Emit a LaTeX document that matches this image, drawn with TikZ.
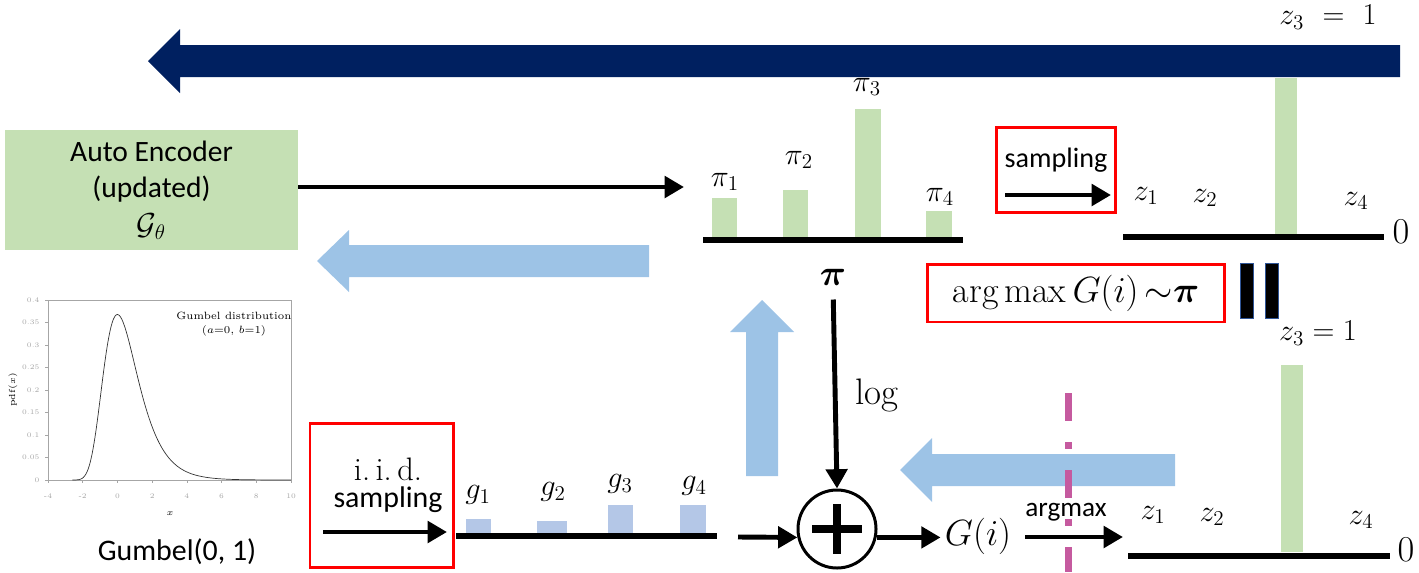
\documentclass[tikz,border=0pt]{standalone}
\usepackage{amsmath,amssymb}
\usepackage{fontspec}
\setsansfont{Carlito}
\usepackage{xcolor}
\definecolor{cNavy}{HTML}{002060}
\definecolor{cGreen}{HTML}{C5E0B4}
\definecolor{cBlue}{HTML}{9DC3E6}
\definecolor{cBar}{HTML}{B4C7E7}
\definecolor{cRed}{HTML}{FF0000}
\definecolor{cPink}{HTML}{C55A9F}
\definecolor{cEdge}{HTML}{2F5597}
\usetikzlibrary{positioning,arrows.meta,calc}
\tikzset{
  box-ae/.style={fill=cGreen,minimum width=166.7pt,minimum height=68.3pt,
    align=center,inner sep=0pt,font=\sffamily\fontsize{16.8}{21}\selectfont},
  box-red/.style={draw=cRed,line width=1.7pt,inner sep=0pt},
  node-sum/.style={draw,circle,line width=1.7pt,minimum size=44.4pt,inner sep=0pt},
  % black arrows and the axis lines of the bar charts
  arrow/.style={-{Triangle[length=11pt,width=12pt]},line width=2.8pt},
  axis-base/.style={line width=3.4pt},
  bar-green/.style={fill=cGreen},
  bar-blue/.style={fill=cBar},
  block-navy/.style={fill=cNavy},
  block-blue/.style={fill=cBlue},
  lbl/.style={inner sep=0pt,font=\fontsize{18.5}{20}\selectfont},
  lbl-sf/.style={inner sep=0pt,font=\sffamily\fontsize{16}{20}\selectfont},
  tick-lbl/.style={inner sep=0pt,font=\fontsize{4}{5}\selectfont},
}

\begin{document}
\begin{tikzpicture}[x=0.02cm,y=-0.02cm]
  \useasboundingbox (0,0) rectangle (1419,572);

  % big feedback arrows
  \fill[block-navy] (148,61) -- (180,29) -- (180,45) -- (1400,45) -- (1400,77)
    -- (180,77) -- (180,93) -- cycle;
  \fill[block-blue] (317,261) -- (349,230) -- (349,245) -- (649,245) -- (649,277)
    -- (349,277) -- (349,292) -- cycle;
  \fill[block-blue] (900,470) -- (932,438) -- (932,454) -- (1175,454) -- (1175,486)
    -- (932,486) -- (932,502) -- cycle;
  \fill[block-blue] (762,300) -- (730,332) -- (746,332) -- (746,476) -- (778,476)
    -- (778,332) -- (794,332) -- cycle;

  % encoder
  \node[box-ae] (ae) at (151.5,190) {Auto Encoder\\(updated)\\$\mathcal{G}_\theta$};
  \coordinate (pi-in) at (684,187);
  \draw[arrow] (ae.east |- pi-in) -- (pi-in);

  % pi chart
  \draw[axis-base] (703,240) -- (963,240);
  \fill[bar-green] (712,198) rectangle (737,237);
  \fill[bar-green] (783,190) rectangle (808,237);
  \fill[bar-green] (855,109) rectangle (881,237);
  \fill[bar-green] (926,211) rectangle (952,237);
  \node[lbl] (pi1) at (725,182) {$\pi_1$};
  \node[lbl] (pi2) at (799,160) {$\pi_2$};
  \node[lbl] (pi3) at (867,87) {$\pi_3$};
  \node[lbl] (pi4) at (940,197) {$\pi_4$};
  \node[lbl,font=\fontsize{21}{22}\selectfont] (pi) at (833,277) {$\boldsymbol{\pi}$};

  % sampling
  \node[box-red,minimum width=67.2pt,minimum height=48.9pt] (smp-box) at (1056,170) {};
  \node[lbl-sf] (smp) at (1056,160) {sampling};
  \coordinate (smp-a) at (1005,195);
  \coordinate (smp-b) at (1111,195);
  \draw[arrow] (smp-a) -- (smp-b);

  % one-hot z (top)
  \draw[axis-base] (1123,237) -- (1384,237);
  \fill[bar-green] (1275,78) rectangle (1297,234);
  \node[lbl] (z1t) at (1146,196) {$z_1$};
  \node[lbl] (z2t) at (1205,198) {$z_2$};
  \node[lbl] (z4t) at (1356,201) {$z_4$};
  \node[lbl] (z3t) at (1328,17) {$z_3\ =\ 1$};
  \node[lbl,font=\fontsize{20}{22}\selectfont] (zerot) at (1401,232) {$0$};

  % equality
  \node[box-red,minimum width=168.5pt,minimum height=33pt] (amx-box) at (1076,293)
    {\fontsize{20.5}{22}\selectfont$\arg\max G(i)\,{\sim}\boldsymbol{\pi}$};
  \filldraw[draw=cEdge,fill=black] (1240,263) rectangle (1253,318);
  \filldraw[draw=cEdge,fill=black] (1265,263) rectangle (1278,318);

  % Gumbel(0,1) plot
  \draw[gray!70,thin] (48,300) rectangle (291,480);
  \foreach \v/\t in {0/0,1/0.05,2/0.1,3/0.15,4/0.2,5/0.25,6/0.3,7/0.35,8/0.4}
    \draw[gray!70,thin] (48,480-22.5*\v) -- (45,480-22.5*\v)
      node[tick-lbl,left=3pt] {\t};
  \foreach \u in {-4,-2,0,2,4,6,8,10}
    \draw[gray!70,thin] ({48+(\u+4)*17.36},480) -- ({48+(\u+4)*17.36},483)
      node[tick-lbl,below=6pt] {\u};
  \draw[black!80,thin] plot[domain=-2.6:10,samples=160,smooth]
    ({48+(\x+4)*17.36},{480-450*exp(-(\x)-exp(-(\x)))});
  \node[inner sep=0pt,font=\fontsize{6}{7}\selectfont,align=center] (gd) at (234,324)
    {Gumbel distribution\\[1pt]$(a{=}0,\,b{=}1)$};
  \node[tick-lbl,rotate=90,font=\fontsize{5}{6}\selectfont] (pdf) at (13,390) {pdf$(x)$};
  \node[tick-lbl,font=\fontsize{5}{6}\selectfont] (xl) at (170,514) {$x$};
  \node[lbl-sf,font=\sffamily\fontsize{17}{20}\selectfont] (gum) at (177,552) {Gumbel(0, 1)};

  % i.i.d. sampling
  \node[box-red,minimum width=81.4pt,minimum height=82.5pt] (iid-box) at (381.5,495.5) {};
  \node[lbl] (iid) at (388,469) {i.\,i.\,d.};
  \node[lbl-sf,font=\sffamily\fontsize{17}{20}\selectfont] (iid2) at (388,500) {sampling};
  \coordinate (iid-a) at (323,532);
  \coordinate (iid-b) at (447,532);
  \draw[arrow] (iid-a) -- (iid-b);

  % g chart
  \draw[axis-base] (456,536) -- (717,536);
  \fill[bar-blue] (466,519) rectangle (491,533);
  \fill[bar-blue] (537,521) rectangle (567,533);
  \fill[bar-blue] (608,505) rectangle (633,533);
  \fill[bar-blue] (680,505) rectangle (706,533);
  \node[lbl] (g1) at (478,495) {$g_1$};
  \node[lbl] (g2) at (553,492) {$g_2$};
  \node[lbl] (g3) at (620,484) {$g_3$};
  \node[lbl] (g4) at (694,486) {$g_4$};

  % sum
  \node[node-sum] (sum) at (837,529) {};
  \draw[line width=5pt] ($(sum.center)+(-25,0)$) -- ($(sum.center)+(25,0)$);
  \draw[line width=5pt] ($(sum.center)+(0,-25)$) -- ($(sum.center)+(0,25)$);
  \coordinate (g-out) at (738,537);
  \draw[arrow] (g-out) -- (sum.192);
  \draw[arrow,shorten <=8pt] (pi.south) -- (sum.north);
  \node[lbl,font=\fontsize{21}{22}\selectfont] (log) at (877,395) {log};
  \node[lbl,font=\fontsize{22}{24}\selectfont] (gi) at (978,536) {$G(i)$};
  \draw[arrow] (sum.348) -- ($(gi.west |- sum.348)+(-4,0)$);

  % argmax
  \node[lbl-sf,font=\sffamily\fontsize{15.5}{18}\selectfont] (amx) at (1066,512) {argmax};
  \coordinate (amx-a) at (1025,537);
  \coordinate (amx-b) at (1123,537);
  \draw[arrow] (amx-a) -- (amx-b);
  \draw[cPink,line width=4pt,dash pattern=on 15.9pt off 12pt on 4pt off 12pt]
    (1068,393) -- (1068,572);

  % one-hot z (bottom)
  \draw[axis-base] (1128,556) -- (1390,556);
  \fill[bar-green] (1281,365) rectangle (1303,552);
  \node[lbl] (z1b) at (1153,515) {$z_1$};
  \node[lbl] (z2b) at (1212,517) {$z_2$};
  \node[lbl] (z4b) at (1361,520) {$z_4$};
  \node[lbl] (z3b) at (1318,333) {$z_3=1$};
  \node[lbl,font=\fontsize{20}{22}\selectfont] (zerob) at (1406,550) {$0$};
\end{tikzpicture}
\end{document}
